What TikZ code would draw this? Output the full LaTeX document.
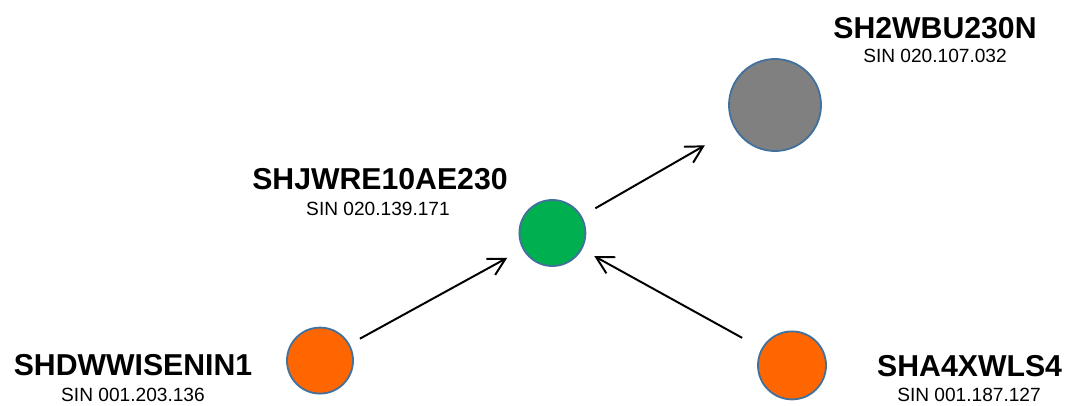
\documentclass[tikz,border=0pt]{standalone}
\usepackage{fontspec}
\setmainfont{Liberation Sans}
\usepackage{tikz}
\usetikzlibrary{arrows.meta, positioning}
\definecolor{hostorange}{HTML}{FF6600}
\definecolor{hostgreen}{HTML}{00B050}
\definecolor{hostgrey}{HTML}{808080}
\definecolor{hostrim}{HTML}{41719C}
\tikzset{
    host node/.style={
        circle,
        inner sep=0pt,
        draw=hostrim,
        line width=1.3pt
    },
    host name/.style={
        anchor=base,
        inner sep=0pt,
        font=\fontsize{21.5}{24}\selectfont\bfseries
    },
    host sin/.style={
        anchor=base,
        inner sep=0pt,
        font=\fontsize{13.6}{16}\selectfont
    },
    link arrow/.style={
        -{Straight Barb[length=4.2mm, width=4.6mm]},
        line width=1.4pt
    }
}
\begin{document}
\begin{tikzpicture}
                \useasboundingbox (0,0) rectangle (26.675,10.125);

                % Hosts
                \node[host node, fill=hostgrey, minimum size=2.3cm] (gw) at (19.375, 7.5) {};
                \node[host node, fill=hostgreen, minimum size=1.65cm] (hub) at (13.81, 4.3) {};
                \node[host node, fill=hostorange, minimum size=1.65cm] (srcl) at (8.0, 1.11) {};
                \node[host node, fill=hostorange, minimum size=1.7cm] (srcr) at (19.8, 0.99) {};

                % Labels
                \node[host name] (gwname) at (23.375, 9.167) {SH2WBU230N};
                \node[host sin] (gwsin) at (23.375, 8.557) {SIN 020.107.032};
                \node[host name] (hubname) at (9.5, 5.393) {SHJWRE10AE230};
                \node[host sin] (hubsin) at (9.45, 4.75) {SIN 020.139.171};
                \node[host name] (srclname) at (3.325, 0.732) {SHDWWISENIN1};
                \node[host sin] (srclsin) at (3.325, 0.082) {SIN 001.203.136};
                \node[host name] (srcrname) at (24.24, 0.725) {SHA4XWLS4};
                \node[host sin] (srcrsin) at (24.225, 0.082) {SIN 001.187.127};

                % Links
                \draw[link arrow, shorten <=0.39cm, shorten >=0.85cm] (hub) -- (gw);
                \draw[link arrow, shorten <=0.29cm, shorten >=0.44cm] (srcl) -- (hub);
                \draw[link arrow, shorten <=0.55cm, shorten >=0.35cm] (srcr) -- (hub);
\end{tikzpicture}
\end{document}
